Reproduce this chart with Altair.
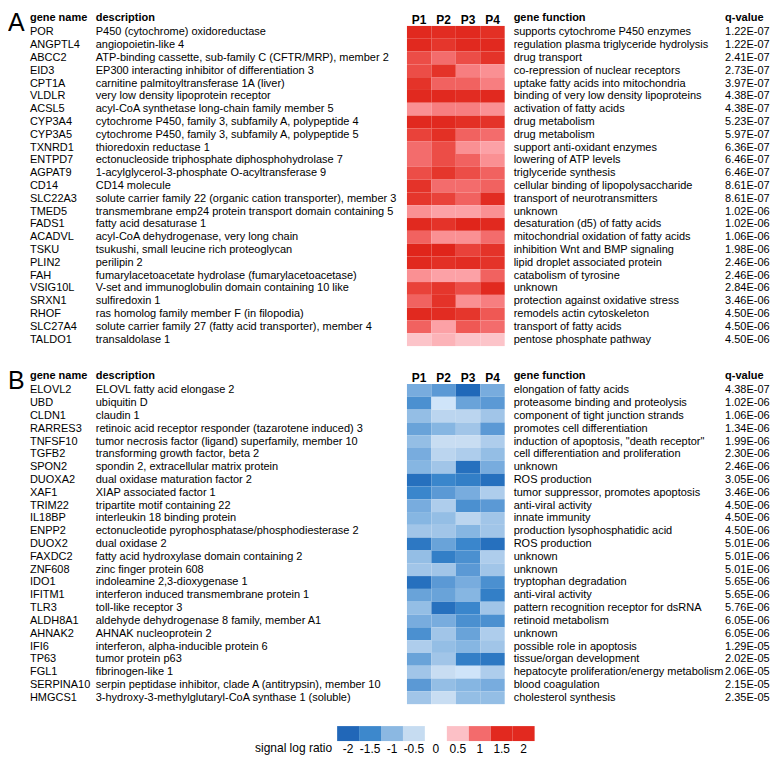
import altair as alt
import pandas as pd

FONT = "Liberation Sans"

patients = ["P1", "P2", "P3", "P4"]

# ---------------- Panel A ----------------
genes_a = ["POR", "ANGPTL4", "ABCC2", "EID3", "CPT1A", "VLDLR", "ACSL5", "CYP3A4", "CYP3A5",
           "TXNRD1", "ENTPD7", "AGPAT9", "CD14", "SLC22A3", "TMED5", "FADS1", "ACADVL", "TSKU",
           "PLIN2", "FAH", "VSIG10L", "SRXN1", "RHOF", "SLC27A4", "TALDO1"]
desc_a = ["P450 (cytochrome) oxidoreductase",
          "angiopoietin-like 4",
          "ATP-binding cassette, sub-family C (CFTR/MRP), member 2",
          "EP300 interacting inhibitor of differentiation 3",
          "carnitine palmitoyltransferase 1A (liver)",
          "very low density lipoprotein receptor",
          "acyl-CoA synthetase long-chain family member 5",
          "cytochrome P450, family 3, subfamily A, polypeptide 4",
          "cytochrome P450, family 3, subfamily A, polypeptide 5",
          "thioredoxin reductase 1",
          "ectonucleoside triphosphate diphosphohydrolase 7",
          "1-acylglycerol-3-phosphate O-acyltransferase 9",
          "CD14 molecule",
          "solute carrier family 22 (organic cation transporter), member 3",
          "transmembrane emp24 protein transport domain containing 5",
          "fatty acid desaturase 1",
          "acyl-CoA dehydrogenase, very long chain",
          "tsukushi, small leucine rich proteoglycan",
          "perilipin 2",
          "fumarylacetoacetate hydrolase (fumarylacetoacetase)",
          "V-set and immunoglobulin domain containing 10 like",
          "sulfiredoxin 1",
          "ras homolog family member F (in filopodia)",
          "solute carrier family 27 (fatty acid transporter), member 4",
          "transaldolase 1"]
func_a = ["supports cytochrome P450 enzymes",
          "regulation plasma triglyceride hydrolysis",
          "drug transport",
          "co-repression of nuclear receptors",
          "uptake fatty acids into mitochondria",
          "binding of very low density lipoproteins",
          "activation of fatty acids",
          "drug metabolism",
          "drug metabolism",
          "support anti-oxidant enzymes",
          "lowering of ATP levels",
          "triglyceride synthesis",
          "cellular binding of lipopolysaccharide",
          "transport of neurotransmitters",
          "unknown",
          "desaturation (d5) of fatty acids",
          "mitochondrial oxidation of fatty acids",
          "inhibition Wnt and BMP signaling",
          "lipid droplet associated protein",
          "catabolism of tyrosine",
          "unknown",
          "protection against oxidative stress",
          "remodels actin cytoskeleton",
          "transport of fatty acids",
          "pentose phosphate pathway"]
q_a = ["1.22E-07", "1.22E-07", "2.41E-07", "2.73E-07", "3.97E-07", "4.38E-07", "4.38E-07",
       "5.23E-07", "5.97E-07", "6.36E-07", "6.46E-07", "6.46E-07", "8.61E-07", "8.61E-07",
       "1.02E-06", "1.02E-06", "1.06E-06", "1.98E-06", "2.46E-06", "2.46E-06", "2.84E-06",
       "3.46E-06", "4.50E-06", "4.50E-06", "4.50E-06"]
p1_a = [1.9, 1.9, 1.3, 1.3, 1.6, 1.9, 0.8, 1.9, 1.4, 1.0, 1.0, 1.3, 1.6, 1.5, 0.8, 1.9, 1.1, 2.0,
        1.9, 0.8, 1.4, 1.1, 1.9, 1.1, 0.5]
p2_a = [1.8, 1.5, 1.0, 1.6, 1.1, 1.9, 0.9, 1.9, 1.7, 1.3, 1.3, 1.5, 1.0, 1.4, 0.7, 1.6, 0.8, 2.0,
        1.7, 0.7, 1.5, 1.6, 1.8, 0.7, 0.6]
p3_a = [1.9, 1.9, 1.3, 0.9, 1.1, 1.8, 0.9, 1.7, 1.1, 0.8, 1.1, 1.3, 1.0, 1.1, 0.7, 2.0, 0.8, 1.4,
        1.8, 0.7, 1.3, 0.8, 1.5, 1.2, 0.5]
p4_a = [1.7, 1.9, 1.6, 0.8, 0.9, 1.9, 0.8, 1.6, 1.0, 0.7, 0.8, 1.1, 1.1, 1.8, 0.8, 1.9, 1.0, 1.6,
        1.6, 1.1, 1.9, 0.9, 1.2, 1.0, 0.5]

# ---------------- Panel B ----------------
genes_b = ["ELOVL2", "UBD", "CLDN1", "RARRES3", "TNFSF10", "TGFB2", "SPON2", "DUOXA2", "XAF1",
           "TRIM22", "IL18BP", "ENPP2", "DUOX2", "FAXDC2", "ZNF608", "IDO1", "IFITM1", "TLR3",
           "ALDH8A1", "AHNAK2", "IFI6", "TP63", "FGL1", "SERPINA10", "HMGCS1"]
desc_b = ["ELOVL fatty acid elongase 2",
          "ubiquitin D",
          "claudin 1",
          "retinoic acid receptor responder (tazarotene induced) 3",
          "tumor necrosis factor (ligand) superfamily, member 10",
          "transforming growth factor, beta 2",
          "spondin 2, extracellular matrix protein",
          "dual oxidase maturation factor 2",
          "XIAP associated factor 1",
          "tripartite motif containing 22",
          "interleukin 18 binding protein",
          "ectonucleotide pyrophosphatase/phosphodiesterase 2",
          "dual oxidase 2",
          "fatty acid hydroxylase domain containing 2",
          "zinc finger protein 608",
          "indoleamine 2,3-dioxygenase 1",
          "interferon induced transmembrane protein 1",
          "toll-like receptor 3",
          "aldehyde dehydrogenase 8 family, member A1",
          "AHNAK nucleoprotein 2",
          "interferon, alpha-inducible protein 6",
          "tumor protein p63",
          "fibrinogen-like 1",
          "serpin peptidase inhibitor, clade A (antitrypsin), member 10",
          "3-hydroxy-3-methylglutaryl-CoA synthase 1 (soluble)"]
func_b = ["elongation of fatty acids",
          "proteasome binding and proteolysis",
          "component of tight junction strands",
          "promotes cell differentiation",
          "induction of apoptosis, \"death receptor\"",
          "cell differentiation and proliferation",
          "unknown",
          "ROS production",
          "tumor suppressor, promotes apoptosis",
          "anti-viral activity",
          "innate immunity",
          "production lysophosphatidic acid",
          "ROS production",
          "unknown",
          "unknown",
          "tryptophan degradation",
          "anti-viral activity",
          "pattern recognition receptor for dsRNA",
          "retinoid metabolism",
          "unknown",
          "possible role in apoptosis",
          "tissue/organ development",
          "hepatocyte proliferation/energy metabolism",
          "blood coagulation",
          "cholesterol synthesis"]
q_b = ["4.38E-07", "1.02E-06", "1.06E-06", "1.34E-06", "1.99E-06", "2.30E-06", "2.46E-06",
       "3.05E-06", "3.46E-06", "4.50E-06", "4.50E-06", "4.50E-06", "5.01E-06", "5.01E-06",
       "5.01E-06", "5.65E-06", "5.65E-06", "5.76E-06", "6.05E-06", "6.05E-06", "1.29E-05",
       "2.02E-05", "2.06E-05", "2.15E-05", "2.35E-05"]
p1_b = [-1.1, -1.4, -0.9, -1.2, -0.9, -1.1, -1.0, -1.8, -1.5, -1.1, -1.0, -0.8, -1.7, -0.9, -0.8,
        -1.8, -1.2, -0.9, -1.1, -1.4, -0.7, -1.2, -0.8, -1.3, -0.8]
p2_b = [-1.3, -0.4, -0.6, -1.0, -0.5, -0.6, -0.8, -1.5, -1.3, -0.7, -0.9, -0.8, -1.2, -1.6, -0.8,
        -1.3, -1.2, -1.8, -1.1, -0.8, -0.9, -0.8, -0.5, -0.9, -0.5]
p3_b = [-1.9, -1.2, -0.6, -0.8, -0.5, -0.7, -1.8, -1.6, -1.1, -1.4, -0.6, -1.0, -1.5, -1.4, -1.3,
        -1.1, -1.0, -1.5, -1.4, -1.2, -1.0, -1.6, -0.4, -1.0, -0.9]
p4_b = [-1.1, -1.3, -0.8, -1.3, -0.7, -0.9, -1.1, -1.8, -0.7, -1.3, -0.8, -0.8, -1.8, -0.7, -0.8,
        -1.4, -1.6, -0.8, -1.4, -0.7, -0.8, -1.7, -0.7, -1.1, -0.9]

# ---------------- Colour scale / legend ----------------
scale_domain = [-2, -1.5, -1, -0.5, 0, 0.5, 1, 1.5, 2]
scale_range = ["#1a62b4", "#3a86cc", "#86b6e2", "#c8ddf2", "#ffffff",
               "#fcc4c9", "#f36c6c", "#e5362c", "#e0251b"]
legend_labels = ["-2", "-1.5", "-1", "-0.5", "0", "0.5", "1", "1.5", "2"]
legend_colors = ["#2167b8", "#3d88cc", "#8bb8e2", "#c6dcf1", "#ffffff",
                 "#fcc0c6", "#f36b6c", "#e2291f", "#e2291f"]

H = 321


def table(genes, desc, func, q):
    return pd.DataFrame({"row": list(range(len(genes))), "gene": genes, "desc": desc,
                         "func": func, "q": q})


def long_table(cols):
    recs = []
    for p, vals in zip(patients, cols):
        for i, v in enumerate(vals):
            recs.append({"row": i, "patient": p, "value": v})
    return pd.DataFrame(recs)


def letter_col(letter):
    return alt.Chart(pd.DataFrame({"panel": [letter]})).mark_text(
        align="left", baseline="alphabetic", fontSize=25, font=FONT, color="black"
    ).encode(
        x=alt.value(0), y=alt.value(5), text="panel:N"
    ).properties(width=22, height=H)


def text_col(df, field, title, width, dx=0):
    return alt.Chart(df).mark_text(
        align="left", baseline="middle", fontSize=11, font=FONT, color="black", dx=dx
    ).encode(
        x=alt.value(0),
        y=alt.Y("row:O", axis=None),
        text=f"{field}:N",
    ).properties(
        width=width, height=H,
        title=alt.TitleParams(title, anchor="start", fontSize=11, fontWeight="bold",
                              font=FONT, color="black", offset=-6, baseline="alphabetic", dx=dx),
    )


def heat(df):
    return alt.Chart(df).mark_rect().encode(
        x=alt.X("patient:N", sort=patients,
                axis=alt.Axis(orient="top", title=None, ticks=False, domain=False, tickSize=0,
                              labelAngle=0, labelFontWeight="bold", labelFontSize=12,
                              labelFont=FONT, labelColor="black", labelPadding=2,
                              labelBaseline="alphabetic")),
        y=alt.Y("row:O", axis=None),
        color=alt.Color("value:Q", scale=alt.Scale(domain=scale_domain, range=scale_range),
                        legend=None),
    ).properties(width=98, height=H)


def panel(letter, df, hdf):
    return alt.hconcat(
        letter_col(letter),
        text_col(df, "gene", "gene name", 66),
        text_col(df, "desc", "description", 312),
        heat(hdf),
        text_col(df, "func", "gene function", 221, dx=9),
        text_col(df, "q", "q-value", 42),
        spacing=0, bounds="flush",
    ).resolve_scale(x="independent", y="independent", color="independent")


df_a = table(genes_a, desc_a, func_a, q_a)
df_b = table(genes_b, desc_b, func_b, q_b)
h_a = long_table([p1_a, p2_a, p3_a, p4_a])
h_b = long_table([p1_b, p2_b, p3_b, p4_b])

panel_a = panel("A", df_a, h_a)
panel_b = panel("B", df_b, h_b)

leg_label = alt.Chart(pd.DataFrame({"t": ["signal log ratio"]})).mark_text(
    align="right", baseline="alphabetic", fontSize=12, font=FONT, color="black"
).encode(x=alt.value(325), y=alt.value(26), text="t:N").properties(width=330, height=15)

leg = alt.Chart(pd.DataFrame({"lab": legend_labels})).mark_rect().encode(
    x=alt.X("lab:N", sort=legend_labels,
            axis=alt.Axis(title=None, ticks=False, domain=False, tickSize=0, labelAngle=0,
                          labelFontSize=12, labelFont=FONT, labelColor="black",
                          labelPadding=11, labelBaseline="alphabetic")),
    color=alt.Color("lab:N", sort=legend_labels,
                    scale=alt.Scale(domain=legend_labels, range=legend_colors), legend=None),
).properties(width=198, height=15)

legend_row = alt.hconcat(leg_label, leg, spacing=0, bounds="flush").resolve_scale(
    x="independent", y="independent", color="independent")

chart = alt.vconcat(
    alt.vconcat(panel_a, panel_b, spacing=23).resolve_scale(
        x="independent", y="independent", color="independent"),
    legend_row,
    spacing=22,
).resolve_scale(
    x="independent", y="independent", color="independent"
).properties(
    padding={"top": 2, "left": 0, "right": 0, "bottom": 0}
).configure(
    font=FONT
).configure_view(
    strokeWidth=0, stroke=None
)

chart.save("out.html", embed_options={"renderer": "svg", "actions": False})
